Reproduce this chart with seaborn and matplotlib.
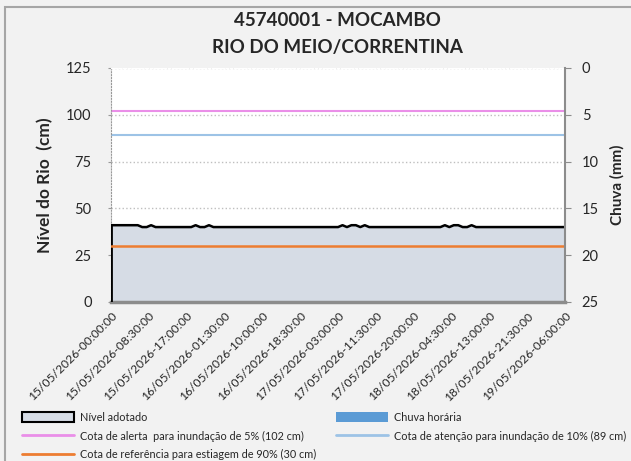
import matplotlib
matplotlib.use('Agg')
import matplotlib.pyplot as plt
from matplotlib.patches import Patch, Rectangle
from matplotlib.lines import Line2D
import pandas as pd
import seaborn as sns

# hourly river level (cm), 15/05/2026 00:00 -> 19/05/2026 06:00
level = [41, 41, 41, 41, 41, 41, 41, 40, 40, 41, 40, 40, 40, 40, 40, 40, 40, 40, 40, 41,
         40, 40, 41, 40, 40, 40, 40, 40, 40, 40, 40, 40, 40, 40, 40, 40, 40, 40, 40, 40,
         40, 40, 40, 40, 40, 40, 40, 40, 40, 40, 40, 40, 41, 40, 41, 41, 40, 41, 40, 40,
         40, 40, 40, 40, 40, 40, 40, 40, 40, 40, 40, 40, 40, 40, 40, 41, 40, 41, 41, 40,
         40, 41, 40, 40, 40, 40, 40, 40, 40, 40, 40, 40, 40, 40, 40, 40, 40, 40, 40, 40,
         40, 40, 40]
# hourly rain (mm)
rain = [0, 0, 0, 0, 0, 0, 0, 0, 0, 0, 0, 0, 0, 0, 0, 0, 0, 0, 0, 0,
        0, 0, 0, 0, 0, 0, 0, 0, 0, 0, 0, 0, 0, 0, 0, 0, 0, 0, 0, 0,
        0, 0, 0, 0, 0, 0, 0, 0, 0, 0, 0, 0, 0, 0, 0, 0, 0, 0, 0, 0,
        0, 0, 0, 0, 0, 0, 0, 0, 0, 0, 0, 0, 0, 0, 0, 0, 0, 0, 0, 0,
        0, 0, 0, 0, 0, 0, 0, 0, 0, 0, 0, 0, 0, 0, 0, 0, 0, 0, 0, 0,
        0, 0, 0]
start = '2026-05-15 00:00'
alert_level = 102
attention_level = 89
drought_level = 30
level_ticks = [0, 25, 50, 75, 100, 125]
rain_ticks = [0, 5, 10, 15, 20, 25]

lbl_level = 'Nível adotado'
lbl_rain = 'Chuva horária'
lbl_alert = 'Cota de alerta  para inundação de 5% (102 cm)'
lbl_attention = 'Cota de atenção para inundação de 10% (89 cm)'
lbl_drought = 'Cota de referência para estiagem de 90% (30 cm)'

colors = {'fill': '#d6dce5', 'rain': '#5b9bd5', 'alert': '#ea8fe8',
          'attention': '#9dc3e6', 'drought': '#ed7d31', 'axis': '#8c8c8c'}

sns.set_style('white')
plt.rcParams['font.family'] = ['Lato', 'DejaVu Sans']

df = pd.DataFrame({'time': pd.date_range(start, periods=len(level), freq='h'),
                   'level': level, 'rain': rain})
t0, t1 = df.time.iloc[0], df.time.iloc[-1]

fig = plt.figure(figsize=(6.31, 4.61), dpi=100, facecolor='#f2f2f2')
fig.patches.append(Rectangle((5 / 631, -0.1), 1.2, 1 - 7 / 461 + 0.1, transform=fig.transFigure,
                             fill=False, edgecolor='#a6a6a6', lw=1.5, zorder=0))
ax = fig.add_axes([0.176, 0.345, 0.7195, 0.5076])
ax.set_facecolor('white')

# area under the level curve, outlined in black
ax.fill_between(df.time, 0, df.level, facecolor=colors['fill'], edgecolor='none', zorder=2)
sns.lineplot(df, x='time', y='level', color='black', lw=1.8, ax=ax, zorder=3)
ax.plot([t0, t0], [0, level[0]], color='black', lw=2, zorder=3)
ax.axhline(alert_level, color=colors['alert'], lw=1.5, zorder=2)
ax.axhline(attention_level, color=colors['attention'], lw=1.5, zorder=2)
ax.axhline(drought_level, color=colors['drought'], lw=1.8, zorder=4)

ax.set_xlim(t0, t1)
ax.set_ylim(0, 125)
ax.set_yticks(level_ticks)
ax.yaxis.grid(True, color='#bfbfbf', ls=':', lw=1)
ax.set_axisbelow(True)
for s in ['top', 'right']:
    ax.spines[s].set_visible(False)
ax.spines['left'].set_linestyle(':')
ax.spines['left'].set_color('#999999')
ax.spines['bottom'].set_color(colors['axis'])
ax.spines['bottom'].set_linewidth(2.5)
ax.tick_params(axis='y', length=2, color='#999999', labelsize=10.5, pad=12)

xticks = pd.date_range(start, periods=13, freq='510min')
ax.set_xticks(xticks)
ax.set_xticklabels([t.strftime('%d/%m/%Y-%H:%M:%S') for t in xticks],
                   rotation=45, ha='right', rotation_mode='anchor', fontsize=8.7)
ax.set_xticks(pd.date_range(start, periods=18, freq='6h'), minor=True)
ax.tick_params(axis='x', which='major', length=0, pad=6)
ax.tick_params(axis='x', which='minor', length=4, color=colors['axis'], width=1)
ax.set_xlabel('')
ax.set_ylabel('Nível do Rio  (cm)', fontsize=12.5, fontweight='bold', labelpad=9)

# rain on the right axis, inverted
ax2 = ax.twinx()
ax2.bar(df.time, df.rain, width=1 / 24, color=colors['rain'])
ax2.set_ylim(25, 0)
ax2.set_yticks(rain_ticks)
for s in ['top', 'left', 'bottom']:
    ax2.spines[s].set_visible(False)
ax2.spines['right'].set_color(colors['axis'])
ax2.spines['right'].set_linewidth(1.5)
ax2.tick_params(axis='y', length=4, color=colors['axis'], labelsize=10.5, pad=8)
ax2.set_ylabel('Chuva (mm)', fontsize=11, fontweight='bold', labelpad=8)

fig.text(0.534, 1 - 20 / 461, '45740001 - MOCAMBO', ha='center', va='center',
         fontsize=13.5, fontweight='bold')
fig.text(0.534, 1 - 47 / 461, 'RIO DO MEIO/CORRENTINA', ha='center', va='center',
         fontsize=13.5, fontweight='bold')

h_level = Patch(facecolor=colors['fill'], edgecolor='black', lw=1.5)
h_rain = Patch(facecolor=colors['rain'], edgecolor='none')
h_alert = Line2D([], [], color=colors['alert'], lw=2)
h_attention = Line2D([], [], color=colors['attention'], lw=2)
h_drought = Line2D([], [], color=colors['drought'], lw=2)

leg_kw = dict(frameon=False, fontsize=7.8, handlelength=4.8, handleheight=1.0,
              handletextpad=0.55, labelspacing=0.7, borderaxespad=0, borderpad=0)
fig.legend([h_level, h_alert, h_drought], [lbl_level, lbl_alert, lbl_drought],
           loc='upper left', bbox_to_anchor=(22 / 631, 1 - 412 / 461), **leg_kw)
fig.legend([h_rain, h_attention], [lbl_rain, lbl_attention],
           loc='upper left', bbox_to_anchor=(336 / 631, 1 - 412 / 461), **leg_kw)

fig.savefig('out.png', dpi=100, facecolor=fig.get_facecolor())
